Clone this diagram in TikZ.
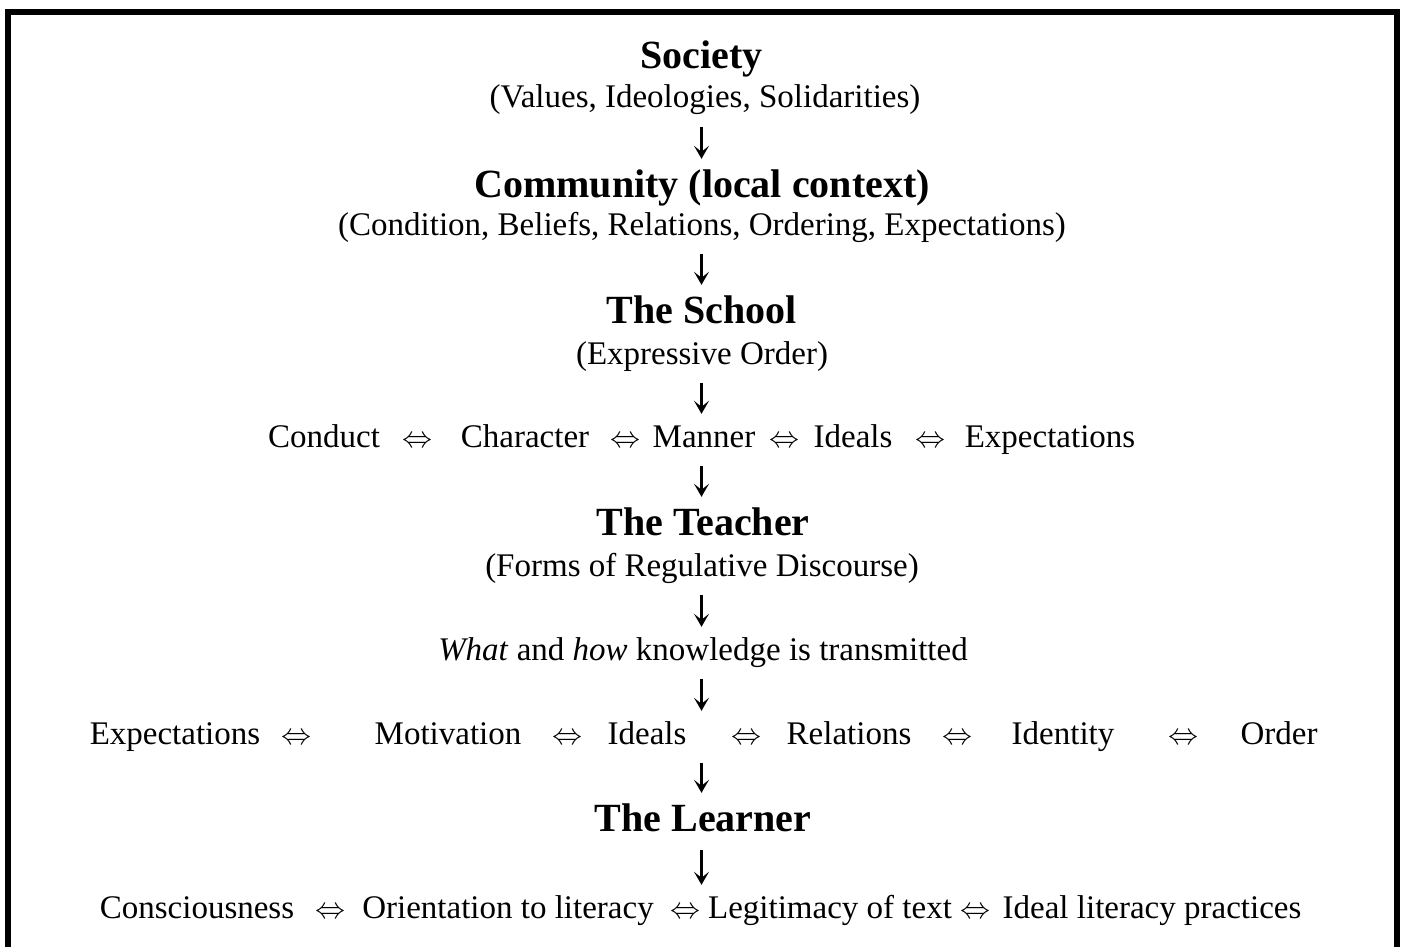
\RequirePackage{fix-cm}
\documentclass[tikz,border=0pt]{standalone}
\usepackage{fontspec}
\setmainfont{Liberation Serif}
\usepackage{amsmath}
\usepackage{amssymb}
\usepackage{tikz}
\usetikzlibrary{arrows.meta}
\tikzset{
level_t/.style = {anchor=base, inner sep=0pt, text height=27pt, text depth=9pt,
font=\fontsize{40}{48}\selectfont\bfseries},% niveau, titre gras
level_s/.style = {anchor=base, inner sep=0pt, text height=22pt, text depth=9pt,
font=\fontsize{33}{40}\selectfont},% sous-titre, texte normal
equiv/.style = {anchor=base, inner sep=0pt, font=\fontsize{30}{36}\selectfont},% double fleche
flow/.style = {line width=3pt, -{Stealth[length=13pt,width=15pt,inset=6pt]},
shorten <=10pt, shorten >=11pt}
}
\begin{document}
\begin{tikzpicture}[x=1pt,y=-1pt]
	\useasboundingbox (0,0) rectangle (1401,947);
	\draw[line width=6pt] (8,960) -- (8,12.5) -- (1397,12.5) -- (1397,960);
	% les niveaux
	\node [level_t] (society) at (701.5,69) {Society};
	\node [level_s] (values) at (705,108) {(Values, Ideologies, Solidarities)};
	\node [level_t] (community) at (702,197) {Community (local context)};
	\node [level_s] (condition) at (702,235) {(Condition, Beliefs, Relations, Ordering, Expectations)};
	\node [level_t] (school) at (702,323) {The School};
	\node [level_s] (expressive) at (702,364) {(Expressive Order)};
	% ligne 1
	\node [level_s] (conduct) at (324,447) {Conduct};
	\node [equiv] (e11) at (417,447) {$\Leftrightarrow$};
	\node [level_s] (character) at (525,447) {Character};
	\node [equiv] (e12) at (625,447) {$\Leftrightarrow$};
	\node [level_s] (manner) at (704,447) {Manner};
	\node [equiv] (e13) at (784,447) {$\Leftrightarrow$};
	\node [level_s] (ideals1) at (853,447) {Ideals};
	\node [equiv] (e14) at (930,447) {$\Leftrightarrow$};
	\node [level_s] (expect1) at (1050,447) {Expectations};
	\node [level_t] (teacher) at (703,535) {The Teacher};
	\node [level_s] (forms) at (702,576) {(Forms of Regulative Discourse)};
	\node [level_s] (what) at (703,660) {\textit{What} and \textit{how} knowledge is transmitted};
	% ligne 2
	\node [level_s] (expect2) at (175,744) {Expectations};
	\node [equiv] (e21) at (296,744) {$\Leftrightarrow$};
	\node [level_s] (motivation) at (448,744) {Motivation};
	\node [equiv] (e22) at (567,744) {$\Leftrightarrow$};
	\node [level_s] (ideals2) at (647,744) {Ideals};
	\node [equiv] (e23) at (746,744) {$\Leftrightarrow$};
	\node [level_s] (relations) at (849,744) {Relations};
	\node [equiv] (e24) at (957,744) {$\Leftrightarrow$};
	\node [level_s] (identity) at (1063,744) {Identity};
	\node [equiv] (e25) at (1183,744) {$\Leftrightarrow$};
	\node [level_s] (order) at (1279,744) {Order};
	\node [level_t] (learner) at (703,831) {The Learner};
	% ligne 3
	\node [level_s] (conscious) at (197,918) {Consciousness};
	\node [equiv] (e31) at (330,918) {$\Leftrightarrow$};
	\node [level_s] (orient) at (508,918) {Orientation to literacy};
	\node [equiv] (e32) at (685,918) {$\Leftrightarrow$};
	\node [level_s] (legit) at (830,918) {Legitimacy of text};
	\node [equiv] (e33) at (975,918) {$\Leftrightarrow$};
	\node [level_s] (practices) at (1152,918) {Ideal literacy practices};
	% fleches
	\foreach \a/\b in {values/community, condition/school, expressive/manner, manner/teacher,
	  forms/what, what/ideals2, ideals2/learner, learner/orient}
	  \draw[flow] (\a.south -| society) -- (\b.north -| society);
\end{tikzpicture}
\end{document}
